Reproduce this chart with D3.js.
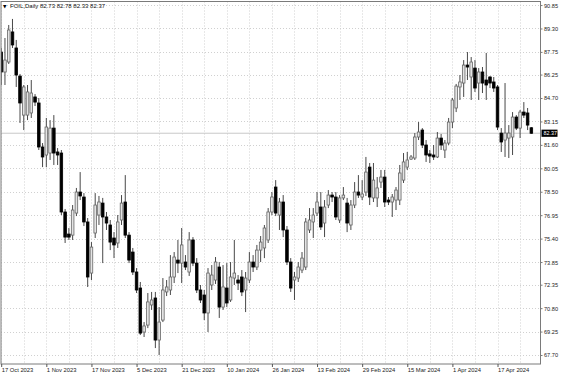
<!DOCTYPE html>
<html><head><meta charset="utf-8">
<script src="https://cdn.jsdelivr.net/npm/d3@7"></script>
<style>html,body{margin:0;padding:0;background:#fff;}svg{display:block;}</style>
</head><body>
<svg id="chart" width="564" height="376"></svg>
<script>
// ---- data (FOIL, Daily) ----
const symbolTitle = "FOIL,Daily";
const openVals  = [87.74,86.42,87.08,89.07,88.01,86.15,83.57,83.57,83.71,84.77,84.37,81.46,80.93,81.06,82.71,81.13,81.06,77.16,75.70,75.63,77.09,78.48,78.15,76.50,73.12,75.77,76.96,77.75,76.83,76.30,75.44,75.11,76.63,77.82,75.63,74.51,73.19,72.13,69.22,69.68,71.01,71.47,68.69,70.01,71.87,72.00,72.86,73.98,73.78,73.85,73.19,75.31,73.78,72.00,71.67,70.48,72.33,72.66,73.52,70.87,72.13,71.34,72.79,72.66,72.86,72.00,72.66,73.85,73.52,74.64,74.78,75.31,77.16,78.81,76.96,77.82,75.97,73.85,72.66,72.79,73.32,73.52,75.97,76.50,77.09,77.49,76.43,77.62,78.28,78.15,76.63,78.09,77.75,76.30,77.62,78.48,78.15,78.48,80.13,78.09,78.09,79.14,79.47,77.95,77.82,77.95,77.95,79.27,80.13,80.66,80.73,82.12,82.58,81.59,81.00,80.93,80.80,82.05,81.26,81.72,83.11,84.04,85.43,85.69,86.88,86.09,86.68,85.69,86.42,85.89,86.09,85.76,85.43,82.38,81.92,82.05,82.12,83.44,82.71,83.77,83.71,82.73];
const highVals  = [88.01,88.67,89.53,89.93,88.54,86.29,85.56,85.56,85.89,84.96,84.70,81.72,83.38,83.24,83.57,81.39,81.26,77.36,76.10,77.62,78.75,79.80,78.41,76.76,75.17,78.41,78.22,78.09,77.16,76.63,75.83,76.96,78.28,79.60,75.83,74.78,73.45,72.53,69.88,71.80,71.87,71.87,70.87,72.79,72.66,74.31,74.51,75.31,76.10,74.31,75.83,75.50,74.11,72.33,72.00,73.45,73.65,74.18,73.85,73.65,73.78,73.85,75.31,72.99,73.32,73.19,74.51,74.31,74.98,75.57,76.30,77.42,78.48,79.27,78.09,78.28,76.23,74.11,73.19,73.85,74.51,76.76,77.42,77.42,78.48,78.48,77.95,78.61,78.48,78.48,78.28,78.81,78.09,77.95,79.14,79.60,79.27,80.80,80.40,80.40,79.47,79.94,79.94,78.15,78.35,78.81,80.27,81.06,81.13,80.93,82.38,83.11,82.71,81.92,81.26,81.59,82.45,82.32,81.92,83.38,84.70,85.63,86.22,87.21,87.74,87.41,87.21,86.68,86.75,87.68,86.15,86.09,85.56,82.71,85.69,82.91,83.77,83.57,83.91,84.43,84.04,82.78];
const lowVals   = [85.56,85.56,86.95,88.01,85.43,83.05,82.58,83.24,83.38,84.17,81.26,80.13,80.13,80.60,80.27,80.27,76.96,75.11,75.31,75.31,76.89,77.95,76.23,72.20,72.66,75.44,76.30,73.78,75.97,74.64,74.11,74.78,76.30,75.44,73.78,72.99,71.80,69.02,68.89,69.48,70.68,68.16,67.70,69.88,71.60,71.67,72.46,73.12,72.46,73.32,72.93,73.58,71.80,71.14,70.01,69.22,72.00,72.40,70.15,70.68,70.87,71.21,72.33,72.00,71.60,70.54,72.46,73.19,73.32,73.85,74.11,75.11,76.96,76.89,75.97,75.50,73.65,71.87,71.34,72.53,73.12,73.32,75.77,75.44,76.89,75.97,75.50,77.42,77.82,76.63,76.43,77.95,75.83,75.97,77.42,78.09,77.95,78.22,77.62,77.82,77.49,78.75,77.49,77.62,76.83,77.29,77.62,79.08,79.94,80.60,80.60,81.92,81.39,80.47,80.40,80.60,80.73,81.26,80.73,81.59,82.71,83.77,84.57,84.77,85.89,84.57,85.10,84.57,85.03,84.57,85.36,85.10,82.58,81.13,80.80,80.73,80.93,82.58,82.05,83.38,82.58,82.33];
const closeVals = [86.42,87.21,89.20,88.21,86.22,84.37,85.43,85.10,85.03,84.43,81.46,80.80,82.78,82.71,81.06,80.93,77.16,75.50,75.50,77.29,78.48,78.22,76.50,72.86,74.84,77.62,77.82,76.83,76.43,75.17,74.98,76.50,77.75,75.63,73.98,73.19,72.00,69.15,69.62,71.21,71.34,68.69,69.88,72.00,72.20,72.86,74.18,73.78,74.98,73.52,75.31,73.78,72.00,71.34,70.48,73.12,72.99,73.85,70.87,72.20,71.14,72.86,73.12,72.46,71.87,72.79,73.85,73.52,74.64,75.17,76.10,77.16,78.15,77.09,77.82,75.97,73.85,72.13,72.86,73.52,74.11,76.50,76.63,76.96,77.82,76.17,77.49,78.28,78.15,76.83,78.09,78.28,76.43,77.62,78.48,78.28,78.35,79.80,78.15,79.27,78.75,79.47,77.82,77.82,78.15,78.61,79.74,80.47,80.60,80.80,82.12,82.45,81.59,80.93,80.86,80.80,82.05,81.59,81.72,83.11,84.57,85.49,85.76,86.88,86.75,87.08,85.36,86.42,85.69,85.56,85.69,85.36,82.78,81.79,82.38,82.38,83.44,82.71,83.77,83.57,82.91,82.37];
const dateLabels = ["17 Oct 2023","1 Nov 2023","17 Nov 2023","5 Dec 2023","21 Dec 2023","10 Jan 2024","26 Jan 2024","13 Feb 2024","29 Feb 2024","15 Mar 2024","1 Apr 2024","17 Apr 2024"];
const dateLabelIndex = [0,12,24,36,48,60,72,84,96,108,120,132];
const priceTicks = [90.85,89.30,87.75,86.25,84.70,83.15,81.60,80.05,78.50,76.95,75.40,73.85,72.35,70.80,69.25,67.70];
const priceTickLabels = ["90.85","89.30","87.75","86.25","84.70","83.15","81.60","80.05","78.50","76.95","75.40","73.85","72.35","70.80","69.25","67.70"];

// ---- layout ----
const svg = d3.select("#chart");
const L = 1, R = 540.5, T = 1.5, B = 364;
const n = closeVals.length;
const bars = d3.range(n).map(i => ({i, o: openVals[i], h: highVals[i], l: lowVals[i], c: closeVals[i]}));

const x = d3.scaleLinear().domain([0, n - 1]).range([1.2, 1.2 + 3.76 * (n - 1)]);
const y = d3.scaleLinear().domain([67.105, 91.084]).range([B, T]);
const font = "'Liberation Sans', Arial, sans-serif";

svg.append("rect").attr("width", 564).attr("height", 376).attr("fill", "#fff");

svg.append("defs").append("clipPath").attr("id", "pc")
  .append("rect").attr("x", L).attr("y", T).attr("width", R - L).attr("height", B - T);

// grid
const g = svg.append("g").attr("clip-path", "url(#pc)");
g.selectAll(".hg").data(priceTicks).join("line")
  .attr("x1", L).attr("x2", R)
  .attr("y1", d => Math.round(y(d)) + 0.5).attr("y2", d => Math.round(y(d)) + 0.5)
  .attr("stroke", "#d0d0d0").attr("stroke-width", 1).attr("stroke-dasharray", "1,2");
const vIdx = d3.range(0, n + 12, 6);
g.selectAll(".vg").data(vIdx).join("line")
  .attr("x1", d => Math.round(x(d)) + 0.5).attr("x2", d => Math.round(x(d)) + 0.5)
  .attr("y1", T).attr("y2", B)
  .attr("stroke", "#d0d0d0").attr("stroke-width", 1).attr("stroke-dasharray", "1,2");

// bid line
const last = closeVals[n - 1];
g.append("line").attr("x1", L).attr("x2", R)
  .attr("y1", y(last)).attr("y2", y(last))
  .attr("stroke", "#c8c8c8").attr("stroke-width", 1);

// candles
const cg = g.append("g");
cg.selectAll(".wick").data(bars).join("line")
  .attr("x1", d => x(d.i)).attr("x2", d => x(d.i))
  .attr("y1", d => y(d.h)).attr("y2", d => y(d.l))
  .attr("stroke", "#333").attr("stroke-width", 0.9);
cg.selectAll(".body").data(bars).join("rect")
  .attr("x", d => x(d.i) - 1.3)
  .attr("width", 2.6)
  .attr("y", d => y(Math.max(d.o, d.c)))
  .attr("height", d => Math.max(0.8, Math.abs(y(d.o) - y(d.c))))
  .attr("fill", d => d.c >= d.o ? "#e4e4e4" : "#000")
  .attr("stroke", d => d.c >= d.o ? "#666" : "#000")
  .attr("stroke-width", 0.8);

// frame
svg.append("rect").attr("x", L).attr("y", T).attr("width", R - L).attr("height", B - T)
  .attr("fill", "none").attr("stroke", "#7a7a7a").attr("stroke-width", 1);

// price axis
const yAxis = d3.axisRight(y).tickValues(priceTicks).tickSize(2)
  .tickFormat((d, i) => priceTickLabels[i]);
const ya = svg.append("g").attr("transform", `translate(${R},0)`).call(yAxis);
ya.select(".domain").remove();
ya.selectAll("line").attr("stroke", "#7a7a7a");
ya.selectAll("text").attr("x", 3.5).attr("dy", "0.35em")
  .attr("font-family", font).attr("font-size", 5.6).attr("fill", "#222");

// current price label
const cp = svg.append("g");
cp.append("rect").attr("x", R + 1).attr("y", y(last) - 3.6).attr("width", 16).attr("height", 7.2).attr("fill", "#000");
cp.append("text").attr("x", R + 3).attr("y", y(last)).attr("dy", "0.35em")
  .attr("font-family", font).attr("font-size", 5.4).attr("fill", "#fff").text(d3.format(".2f")(last));

// time axis
const xAxis = d3.axisBottom(x).tickValues(dateLabelIndex).tickSize(3)
  .tickFormat((d, i) => dateLabels[i]);
const xa = svg.append("g").attr("transform", `translate(0,${B})`).call(xAxis);
xa.select(".domain").remove();
xa.selectAll("line").attr("stroke", "#555");
xa.selectAll("text").attr("text-anchor", "start").attr("x", 0).attr("y", 3.5).attr("dy", "0.71em")
  .attr("font-family", font).attr("font-size", 5.8).attr("fill", "#222");

// header
svg.append("text").attr("x", 3).attr("y", 8).attr("font-family", "'DejaVu Sans', sans-serif")
  .attr("font-size", 4.5).attr("fill", "#000").text("\u25BC");
svg.append("text").attr("x", 10).attr("y", 8).attr("font-family", font).attr("font-size", 6)
  .attr("fill", "#111")
  .text(`${symbolTitle} ${d3.format(".2f")(openVals[n-1])} ${d3.format(".2f")(highVals[n-1])} ${d3.format(".2f")(lowVals[n-1])} ${d3.format(".2f")(closeVals[n-1])}`);
</script>
</body></html>
